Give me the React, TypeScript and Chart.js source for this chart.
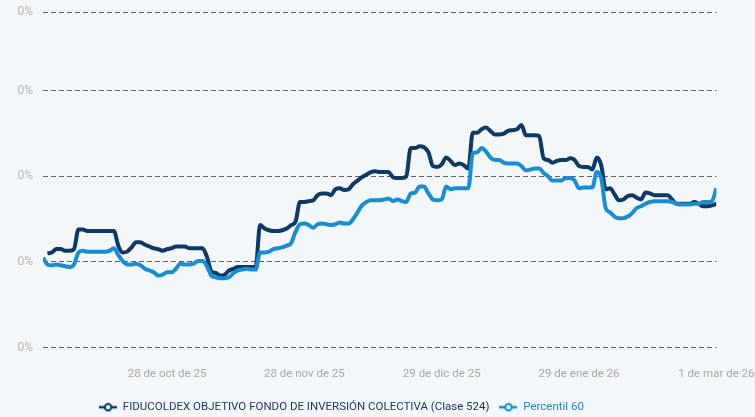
import React, { useEffect, useRef } from "react";
import { Chart, registerables } from "chart.js";

Chart.register(...registerables);

// day index: days since 30 sep 2025
const dayIndex: number[] = Array.from({ length: 153 }, (_, i) => i);
const tickDays = [28, 59, 90, 121, 152];
const tickLabels = ["28 de oct de 25", "28 de nov de 25", "29 de dic de 25", "29 de ene de 26", "1 de mar de 26"];
const yTickValues = [0, 0.1, 0.2, 0.3, 0.392];
const seriesNames = ["FIDUCOLDEX OBJETIVO FONDO DE INVERSIÓN COLECTIVA (Clase 524)", "Percentil 60"];

const fiducoldexValues = [
  null, 0.110, 0.111, 0.115, 0.115, 0.113, 0.113, 0.115, 0.138, 0.138,
  0.136, 0.136, 0.136, 0.136, 0.136, 0.136, 0.136, 0.119, 0.111, 0.112,
  0.117, 0.123, 0.123, 0.120, 0.118, 0.116, 0.115, 0.113, 0.115, 0.116,
  0.118, 0.118, 0.118, 0.116, 0.116, 0.116, 0.116, 0.106, 0.089, 0.087,
  0.084, 0.085, 0.090, 0.092, 0.094, 0.094, 0.094, 0.094, 0.094, 0.143,
  0.139, 0.137, 0.136, 0.136, 0.137, 0.139, 0.143, 0.147, 0.170, 0.170,
  0.171, 0.172, 0.178, 0.180, 0.180, 0.178, 0.185, 0.186, 0.184, 0.185,
  0.191, 0.195, 0.199, 0.202, 0.205, 0.206, 0.205, 0.205, 0.205, 0.199,
  0.198, 0.198, 0.200, 0.233, 0.233, 0.235, 0.234, 0.228, 0.212, 0.211,
  0.214, 0.222, 0.218, 0.213, 0.215, 0.213, 0.209, 0.251, 0.251, 0.255,
  0.257, 0.253, 0.249, 0.249, 0.250, 0.253, 0.254, 0.255, 0.260, 0.248,
  0.248, 0.248, 0.247, 0.221, 0.219, 0.216, 0.218, 0.219, 0.219, 0.221,
  0.219, 0.212, 0.211, 0.211, 0.208, 0.222, 0.213, 0.185, 0.186, 0.179,
  0.172, 0.173, 0.177, 0.178, 0.175, 0.173, 0.181, 0.180, 0.178, 0.178,
  0.178, 0.178, 0.173, 0.168, 0.168, 0.168, 0.168, 0.170, 0.168, 0.165,
  0.165, 0.166, 0.168,
];

const percentilValues = [
  0.105, 0.097, 0.096, 0.097, 0.096, 0.095, 0.094, 0.097, 0.111, 0.113,
  0.112, 0.112, 0.112, 0.112, 0.112, 0.113, 0.116, 0.108, 0.101, 0.097,
  0.097, 0.098, 0.096, 0.092, 0.090, 0.088, 0.084, 0.085, 0.088, 0.088,
  0.092, 0.098, 0.097, 0.097, 0.098, 0.101, 0.101, 0.095, 0.084, 0.082,
  0.081, 0.081, 0.082, 0.087, 0.090, 0.091, 0.092, 0.091, 0.091, 0.111,
  0.111, 0.112, 0.115, 0.116, 0.117, 0.119, 0.122, 0.135, 0.144, 0.145,
  0.143, 0.140, 0.144, 0.145, 0.144, 0.143, 0.144, 0.146, 0.145, 0.145,
  0.150, 0.158, 0.166, 0.170, 0.172, 0.172, 0.172, 0.173, 0.174, 0.171,
  0.173, 0.171, 0.170, 0.180, 0.181, 0.188, 0.188, 0.180, 0.173, 0.172,
  0.173, 0.188, 0.185, 0.186, 0.186, 0.186, 0.186, 0.227, 0.228, 0.233,
  0.229, 0.222, 0.219, 0.219, 0.216, 0.215, 0.215, 0.215, 0.212, 0.207,
  0.208, 0.209, 0.209, 0.204, 0.200, 0.195, 0.195, 0.195, 0.198, 0.198,
  0.195, 0.186, 0.187, 0.187, 0.187, 0.205, 0.198, 0.163, 0.158, 0.153,
  0.151, 0.151, 0.153, 0.157, 0.163, 0.165, 0.168, 0.170, 0.171, 0.171,
  0.171, 0.171, 0.170, 0.168, 0.167, 0.167, 0.167, 0.168, 0.168, 0.170,
  0.170, 0.171, 0.186,
];

const DARK = "#0e3866";
const BLUE = "#1a8dce";
const DARK_TEXT = "#1b3a60";
const BLUE_TEXT = "#2a80c0";
const BG = "#f4f7fa";
const FONT = "Roboto";

function legendSymbol(color: string): HTMLCanvasElement {
  const c = document.createElement("canvas");
  c.width = 18;
  c.height = 10;
  const ctx = c.getContext("2d")!;
  ctx.strokeStyle = color;
  ctx.lineWidth = 2.5;
  ctx.beginPath();
  ctx.moveTo(0, 5);
  ctx.lineTo(18, 5);
  ctx.stroke();
  ctx.fillStyle = BG;
  ctx.lineWidth = 2;
  ctx.beginPath();
  ctx.arc(9, 5, 3.2, 0, Math.PI * 2);
  ctx.fill();
  ctx.stroke();
  return c;
}

export default function App() {
  const ref = useRef<HTMLCanvasElement | null>(null);

  useEffect(() => {
    document.body.style.margin = "0";
    document.body.style.background = BG;
    const canvas = ref.current;
    if (!canvas) return;
    const symbols = [legendSymbol(DARK), legendSymbol(BLUE)];
    const textColors = [DARK_TEXT, BLUE_TEXT];

    const tweak = {
      id: "tweak",
      beforeDraw(chart: any) {
        const ctx = chart.ctx;
        ctx.save();
        ctx.fillStyle = BG;
        ctx.fillRect(0, 0, chart.width, chart.height);
        ctx.restore();
      },
      afterLayout(chart: any) {
        const lg = chart.legend;
        if (!lg) return;
        lg.left = 0;
        lg.right = 683;
        lg.top += 6;
        lg.bottom += 6;
      },
    };

    const chart = new Chart(canvas, {
      type: "line",
      data: {
        labels: dayIndex,
        datasets: [
          {
            label: seriesNames[0],
            data: fiducoldexValues,
            borderColor: DARK,
            backgroundColor: DARK,
            borderWidth: 4,
            pointRadius: 0,
            cubicInterpolationMode: "monotone",
            order: 1,
          },
          {
            label: seriesNames[1],
            data: percentilValues,
            borderColor: BLUE,
            backgroundColor: BLUE,
            borderWidth: 4,
            pointRadius: 0,
            cubicInterpolationMode: "monotone",
            order: 0,
          },
        ],
      },
      options: {
        responsive: false,
        maintainAspectRatio: false,
        animation: false,
        layout: { padding: { left: 0, right: 38.6, top: 12, bottom: 0 } },
        scales: {
          x: {
            type: "linear",
            min: 0,
            max: 152,
            grid: { display: false, drawTicks: false },
            border: { display: false },
            afterBuildTicks: (s: any) => {
              s.ticks = tickDays.map((v) => ({ value: v }));
            },
            afterFit: (s: any) => {
              s.height = 38;
              s.paddingLeft = 0;
              s.paddingRight = 0;
            },
            ticks: {
              autoSkip: false,
              maxRotation: 0,
              padding: 20,
              color: "#a8a8a8",
              font: { family: FONT, size: 11.5 },
              callback: (v: any) => {
                const i = tickDays.indexOf(Number(v));
                return i >= 0 ? tickLabels[i] : "";
              },
            },
          },
          y: {
            min: 0,
            max: 0.392,
            afterBuildTicks: (s: any) => {
              s.ticks = yTickValues.map((v) => ({ value: v }));
            },
            afterFit: (s: any) => {
              s.width = 43;
              s.paddingTop = 0;
              s.paddingBottom = 0;
            },
            grid: { color: "#5f5f5f", lineWidth: 1, drawTicks: false },
            border: { display: false, dash: [5, 3] },
            ticks: {
              padding: 10,
              color: "#b5b5b5",
              font: { family: FONT, size: 12 },
              callback: (v: any) => `${Math.round(Number(v))}%`,
            },
          },
        },
        plugins: {
          tooltip: { enabled: false },
          legend: {
            position: "bottom",
            labels: {
              usePointStyle: true,
              pointStyleWidth: 18,
              padding: 10,
              font: { family: FONT, size: 11.5 },
              generateLabels: (c: any) =>
                c.data.datasets.map((ds: any, i: number) => ({
                  text: ds.label,
                  fontColor: textColors[i],
                  pointStyle: symbols[i],
                  fillStyle: "rgba(0,0,0,0)",
                  strokeStyle: "rgba(0,0,0,0)",
                  lineWidth: 0,
                  hidden: false,
                  datasetIndex: i,
                })),
            },
          },
        },
      },
      plugins: [tweak],
    } as any);

    return () => chart.destroy();
  }, []);

  return (
    <div style={{ width: 755, height: 417 }}>
      <canvas ref={ref} width={755} height={417} style={{ display: "block" }} />
    </div>
  );
}
